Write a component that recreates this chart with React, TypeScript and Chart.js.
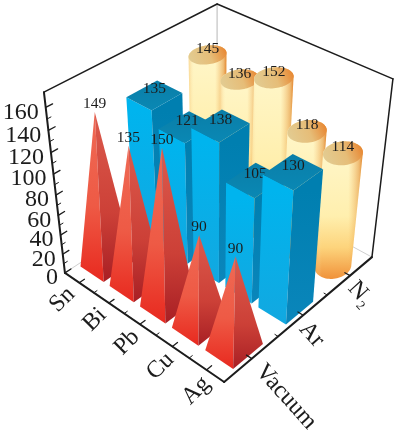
import React, { useEffect, useRef } from "react";
import { Chart, registerables } from "chart.js";

Chart.register(...registerables);

const metals = ["Sn", "Bi", "Pb", "Cu", "Ag"];
const atmospheres = ["Vacuum", "Ar", "N2"];
const vacuumValues = [149, 135, 150, 90, 90];
const argonValues = [135, 121, 138, 105, 130];
const nitrogenValues = [145, 136, 152, 118, 114];
const zTicks = [0, 20, 40, 60, 80, 100, 120, 140, 160];

type P = [number, number];
const INK = "#1c1c1c";
const SERIF = '"Liberation Serif", serif';

// cube corner -> page pixel, used to fit a perspective camera
const frame: [number[], P][] = [
  [[0, 0, 0], [65, 273]],
  [[1, 0, 0], [224, 382]],
  [[1, 1, 0], [372, 257]],
  [[0, 0, 1], [44, 92]],
  [[0, 1, 1], [217, 4]],
  [[1, 1, 1], [393, 79]],
];

function fitCamera() {
  const A: number[][] = [];
  const b: number[] = [];
  for (const [[X, Y, Z], [x, y]] of frame) {
    A.push([X, Y, Z, 1, 0, 0, 0, 0, -x * X, -x * Y, -x * Z]);
    b.push(x);
    A.push([0, 0, 0, 0, X, Y, Z, 1, -y * X, -y * Y, -y * Z]);
    b.push(y);
  }
  const n = 11;
  const M = Array.from({ length: n }, (_, i) => {
    const row = new Array(n + 1).fill(0);
    for (let j = 0; j < n; j++) A.forEach((r) => (row[j] += r[i] * r[j]));
    A.forEach((r, k) => (row[n] += r[i] * b[k]));
    return row;
  });
  for (let i = 0; i < n; i++) {
    let best = i;
    for (let r = i + 1; r < n; r++) if (Math.abs(M[r][i]) > Math.abs(M[best][i])) best = r;
    [M[i], M[best]] = [M[best], M[i]];
    for (let r = 0; r < n; r++) {
      if (r === i) continue;
      const f = M[r][i] / M[i][i];
      for (let c = i; c <= n; c++) M[r][c] -= f * M[i][c];
    }
  }
  return M.map((r, i) => r[n] / r[i]);
}
const cam = fitCamera();
const project = (X: number, Y: number, Z: number): P => {
  const w = cam[8] * X + cam[9] * Y + cam[10] * Z + 1;
  return [(cam[0] * X + cam[1] * Y + cam[2] * Z + cam[3]) / w, (cam[4] * X + cam[5] * Y + cam[6] * Z + cam[7]) / w];
};

function hull(pts: P[]): P[] {
  const s = [...pts].sort((a, b) => a[0] - b[0] || a[1] - b[1]);
  const cross = (o: P, a: P, b: P) => (a[0] - o[0]) * (b[1] - o[1]) - (a[1] - o[1]) * (b[0] - o[0]);
  const build = (list: P[]) => {
    const out: P[] = [];
    for (const p of list) {
      while (out.length > 1 && cross(out[out.length - 2], out[out.length - 1], p) <= 0) out.pop();
      out.push(p);
    }
    out.pop();
    return out;
  };
  return [...build(s), ...build([...s].reverse())];
}

function poly(ctx: CanvasRenderingContext2D, pts: P[]) {
  ctx.beginPath();
  pts.forEach((p, i) => (i ? ctx.lineTo(p[0], p[1]) : ctx.moveTo(p[0], p[1])));
  ctx.closePath();
}
function vGrad(ctx: CanvasRenderingContext2D, y0: number, y1: number, stops: [number, string][]) {
  const g = ctx.createLinearGradient(0, y0, 0, y1);
  stops.forEach(([o, c]) => g.addColorStop(o, c));
  return g;
}
function fillPoly(ctx: CanvasRenderingContext2D, pts: P[], style: any) {
  poly(ctx, pts);
  ctx.fillStyle = style;
  ctx.fill();
}
function line(ctx: CanvasRenderingContext2D, a: P, b: P, color: string, w: number) {
  ctx.beginPath();
  ctx.moveTo(a[0], a[1]);
  ctx.lineTo(b[0], b[1]);
  ctx.strokeStyle = color;
  ctx.lineWidth = w;
  ctx.stroke();
}

function valueLabel(ctx: CanvasRenderingContext2D, text: string, p: P, dy: number) {
  ctx.font = `15.5px ${SERIF}`;
  ctx.fillStyle = INK;
  ctx.textAlign = "center";
  ctx.textBaseline = "middle";
  ctx.fillText(text, p[0], p[1] + dy);
}

const HX = 0.08;
const HY = 0.092;

function pyramid(ctx: CanvasRenderingContext2D, X: number, Y: number, Z: number, text: string) {
  const a = project(X - HX, Y - HY, 0);
  const b = project(X + HX, Y - HY, 0);
  const c = project(X + HX, Y + HY, 0);
  const tip = project(X, Y, Z);
  fillPoly(ctx, [a, b, tip], vGrad(ctx, tip[1], b[1], [[0, "#ef6a55"], [0.55, "#ee5a45"], [1, "#e8291f"]]));
  fillPoly(ctx, [b, c, tip], vGrad(ctx, tip[1], b[1], [[0, "#dc5a4c"], [0.6, "#cc4037"], [1, "#a81f24"]]));
  valueLabel(ctx, text, tip, -8);
}

function box(ctx: CanvasRenderingContext2D, X: number, Y: number, Z: number, text: string) {
  const a = project(X - HX, Y - HY, 0);
  const b = project(X + HX, Y - HY, 0);
  const c = project(X + HX, Y + HY, 0);
  const a2 = project(X - HX, Y - HY, Z);
  const b2 = project(X + HX, Y - HY, Z);
  const c2 = project(X + HX, Y + HY, Z);
  const d2 = project(X - HX, Y + HY, Z);
  fillPoly(ctx, [a, b, b2, a2], vGrad(ctx, b2[1], b[1], [[0, "#00b4ee"], [1, "#12a8e0"]]));
  fillPoly(ctx, [b, c, c2, b2], vGrad(ctx, b2[1], b[1], [[0, "#007fb0"], [1, "#0a86bb"]]));
  fillPoly(ctx, [a2, b2, c2, d2], vGrad(ctx, d2[1], b2[1], [[0, "#0a7ea8"], [1, "#0a88b4"]]));
  const t = project(X, Y, Z);
  valueLabel(ctx, text, t, -6);
}

function cylinder(ctx: CanvasRenderingContext2D, X: number, Y: number, Z: number, text: string) {
  const top: P[] = [];
  const base: P[] = [];
  for (let i = 0; i < 72; i++) {
    const t = (i / 72) * Math.PI * 2;
    const cx = X + HX * Math.cos(t);
    const cy = Y + HY * Math.sin(t);
    top.push(project(cx, cy, Z));
    base.push(project(cx, cy, 0));
  }
  const h = hull([...top, ...base]);
  const xs = h.map((p) => p[0]);
  const x0 = Math.min(...xs);
  const x1 = Math.max(...xs);
  const yT = project(X, Y, Z)[1];
  const yB = Math.max(...base.map((p) => p[1]));
  ctx.save();
  poly(ctx, h);
  ctx.clip();
  ctx.fillStyle = vGrad(ctx, yT, yB, [[0, "#fff6c8"], [0.5, "#ffefae"], [0.75, "#fdd47c"], [1, "#f0923a"]]);
  ctx.fillRect(x0 - 2, yT - 30, x1 - x0 + 4, yB - yT + 60);
  const g = ctx.createLinearGradient(x0, 0, x1, 0);
  g.addColorStop(0, "rgba(240,170,80,0.4)");
  g.addColorStop(0.15, "rgba(255,240,190,0)");
  g.addColorStop(0.7, "rgba(240,170,80,0)");
  g.addColorStop(0.92, "rgba(225,140,50,0.55)");
  g.addColorStop(1, "rgba(225,120,30,0.9)");
  ctx.fillStyle = g;
  ctx.fillRect(x0 - 2, yT - 30, x1 - x0 + 4, yB - yT + 60);
  ctx.restore();
  const tx = Math.min(...top.map((p) => p[0]));
  const tx1 = Math.max(...top.map((p) => p[0]));
  const tg = ctx.createLinearGradient(tx, yT + 8, tx1, yT - 8);
  tg.addColorStop(0, "#e2cd94");
  tg.addColorStop(0.55, "#e6bd78");
  tg.addColorStop(1, "#e8822c");
  fillPoly(ctx, top, tg);
  const t = project(X, Y, Z);
  valueLabel(ctx, text, t, -6);
}

const chartPlugin = {
  id: "bars3d",
  beforeDatasetsDraw(chart: any) {
    const ctx: CanvasRenderingContext2D = chart.ctx;
    const sx = chart.scales.x;
    const sy = chart.scales.atm;
    const sz = chart.scales.z;
    const fx = (i: number) => sx.getDecimalForPixel(sx.getPixelForValue(i));
    const fy = (i: number) => sy.getDecimalForPixel(sy.getPixelForValue(i));
    const fz = (v: number) => sz.getDecimalForPixel(sz.getPixelForValue(v));
    ctx.save();
    ctx.lineCap = "round";

    // pale wall lines
    const GRID = "#cfcfcf";
    line(ctx, project(0, 0, 0), project(0, 1, 0), GRID, 1);
    line(ctx, project(1, 1, 0), project(0, 1, 0), GRID, 1);
    line(ctx, project(0, 1, 0), project(0, 1, 1), GRID, 1.5);

    const draw = [pyramid, box, cylinder];
    for (let d = chart.data.datasets.length - 1; d >= 0; d--) {
      const ds = chart.data.datasets[d];
      ds.data.forEach((v: number, i: number) => {
        draw[d](ctx, fx(i), fy(d), fz(v), String(v));
      });
    }

    // frame
    const W = 1.5;
    const L0 = project(0, 0, 0);
    line(ctx, L0, project(1, 0, 0), INK, 2);
    line(ctx, project(1, 0, 0), project(1, 1, 0), INK, 2);
    line(ctx, L0, project(0, 0, 1), INK, 2);
    line(ctx, project(0, 0, 1), project(0, 1, 1), INK, W);
    line(ctx, project(0, 1, 1), project(1, 1, 1), INK, W);
    line(ctx, project(1, 1, 1), project(1, 1, 0), INK, W);

    // z axis
    const zTickList = sz.ticks.map((t: any) => t.value);
    zTickList.forEach((v: number) => {
      const z = fz(v);
      const p = project(0, 0, z);
      line(ctx, p, project(0, 0.035, z), INK, 1.3);
      if (v < 160) {
        const zm = fz(v + 10);
        line(ctx, project(0, 0, zm), project(0, 0.02, zm), INK, 1);
      }
      ctx.font = `24px ${SERIF}`;
      ctx.fillStyle = INK;
      ctx.textAlign = "right";
      ctx.textBaseline = "middle";
      ctx.fillText(String(v), p[0] - 7, p[1] + 5);
    });

    // metal axis
    metals.forEach((name, i) => {
      const X = fx(i);
      const p = project(X, 0, 0);
      line(ctx, p, project(X, 0.03, 0), INK, 1.3);
      const xm = X + 0.5 / metals.length;
      if (i < metals.length - 1) line(ctx, project(xm, 0, 0), project(xm, 0.018, 0), INK, 1);
      ctx.save();
      ctx.translate(p[0] - 8 + 2 * i, p[1] + 8 + 0.6 * i);
      ctx.rotate(-Math.PI / 4);
      ctx.font = `24px ${SERIF}`;
      ctx.fillStyle = INK;
      ctx.textAlign = "right";
      ctx.textBaseline = "middle";
      ctx.fillText(name, 0, 0);
      ctx.restore();
    });

    // atmosphere axis
    const atmNudge: P[] = [[8, 9], [0, 10], [2, 9]];
    atmospheres.forEach((name, i) => {
      const Y = fy(i);
      const p = project(1, Y, 0);
      line(ctx, p, project(1 - 0.03, Y, 0), INK, 1.3);
      const ym = Y + 0.5 / atmospheres.length;
      if (i < atmospheres.length - 1) line(ctx, project(1, ym, 0), project(1 - 0.018, ym, 0), INK, 1);
      ctx.save();
      ctx.translate(p[0] + atmNudge[i][0], p[1] + atmNudge[i][1]);
      ctx.rotate((48 * Math.PI) / 180);
      ctx.font = `24px ${SERIF}`;
      ctx.fillStyle = INK;
      ctx.textAlign = "left";
      ctx.textBaseline = "middle";
      if (name === "N2") {
        ctx.fillText("N", 0, 0);
        ctx.font = `13px ${SERIF}`;
        ctx.fillText("2", 18, 8);
      } else {
        ctx.fillText(name, 0, 0);
      }
      ctx.restore();
    });
    ctx.restore();
    return false;
  },
};

export default function App() {
  const ref = useRef<HTMLCanvasElement>(null);
  useEffect(() => {
    const chart = new Chart(ref.current as HTMLCanvasElement, {
      type: "bar",
      data: {
        labels: metals,
        datasets: [
          { label: atmospheres[0], data: vacuumValues, yAxisID: "z", xAxisID: "x" },
          { label: atmospheres[1], data: argonValues, yAxisID: "z", xAxisID: "x" },
          { label: atmospheres[2], data: nitrogenValues, yAxisID: "z", xAxisID: "x" },
        ],
      } as any,
      options: {
        responsive: false,
        animation: false,
        events: [],
        layout: { padding: 0 },
        plugins: { legend: { display: false }, tooltip: { enabled: false } },
        scales: {
          x: { type: "category", labels: metals, offset: true, display: false },
          atm: { type: "category", axis: "y", labels: atmospheres, offset: true, display: false },
          z: {
            type: "linear",
            min: 0,
            max: 173,
            display: false,
            afterBuildTicks: (s: any) => {
              s.ticks = zTicks.map((value) => ({ value }));
            },
          },
        },
      } as any,
      plugins: [chartPlugin],
    });
    return () => chart.destroy();
  }, []);
  return (
    <div style={{ position: "fixed", left: 0, top: 0, width: 396, height: 435, background: "#fff" }}>
      <canvas ref={ref} width={396} height={435} style={{ display: "block", filter: "blur(0.5px)" }} />
    </div>
  );
}
